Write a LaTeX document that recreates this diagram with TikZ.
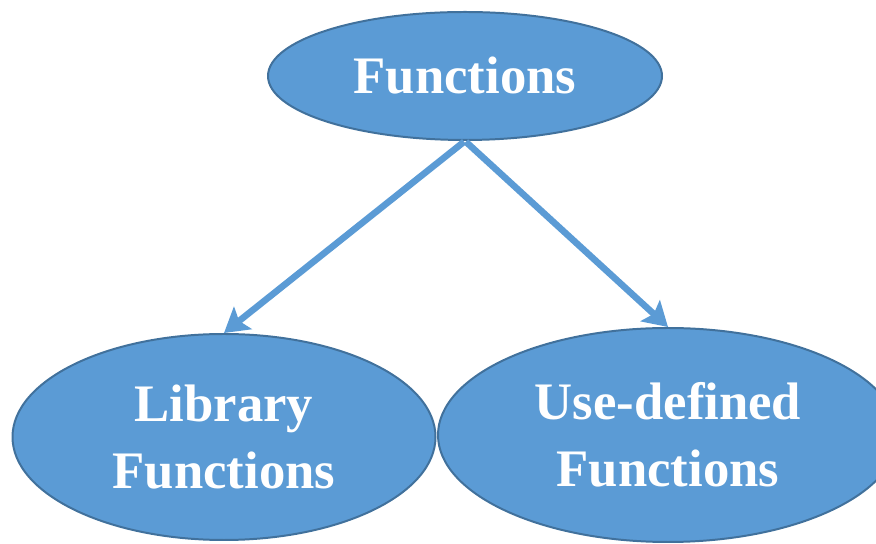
\documentclass[tikz,border=0pt]{standalone}
\usepackage{fontspec}
\setmainfont{Liberation Serif}
\usepackage{tikz}
\usetikzlibrary{shapes.geometric, arrows.meta, positioning}

\definecolor{officeblue}{HTML}{5B9BD5}
\definecolor{officeedge}{HTML}{41719C}

\begin{document}
\begin{tikzpicture}[
  font=\fontsize{45}{57}\selectfont\bfseries,
  bubble/.style={draw=officeedge, line width=1.7pt, ellipse, fill=officeblue,
                 text=white, align=center, inner sep=0pt},
  arr/.style={-{Stealth[length=0.72cm, width=0.85cm, inset=0.14cm]},
              draw=officeblue, line width=5.6pt, shorten <=1pt},
]
\useasboundingbox (0,0) rectangle (26.28,16.32);
\clip (0,0) rectangle (26.28,16.32);

%% Root
\node[bubble, minimum width=11.82cm, minimum height=3.84cm] (func) at (13.95, 14.04) {Functions};

%% Kinds of functions
\node[bubble, minimum width=12.69cm, minimum height=6.18cm] (lib) at (6.72, 3.21) {Library\\Functions};
\node[bubble, minimum width=13.8cm, minimum height=6.42cm] (user) at (20.04, 3.27) {Use-defined\\Functions};

\draw[arr] (func.south) -- (lib.north);
\draw[arr] (func.south) -- (user.north);

\end{tikzpicture}
\end{document}
